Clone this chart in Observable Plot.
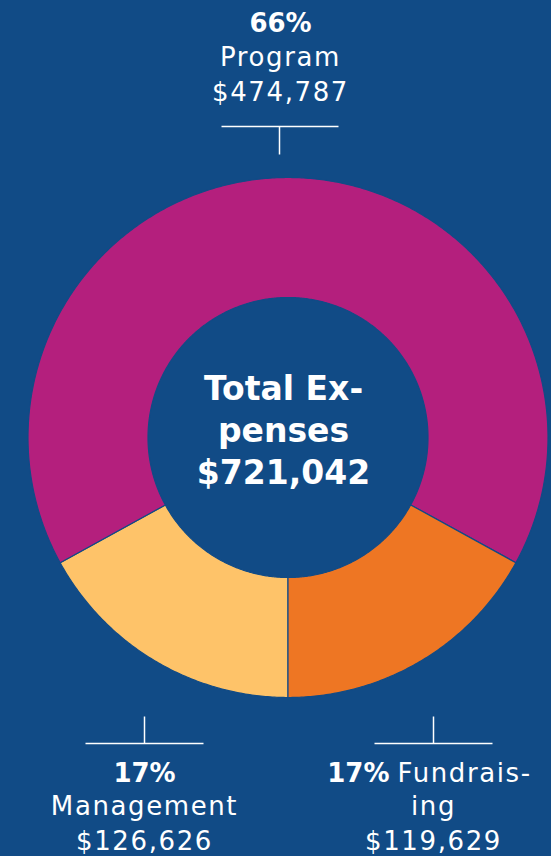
<!DOCTYPE html>
<html>
<head>
<meta charset="utf-8">
<script src="https://cdn.jsdelivr.net/npm/d3@7"></script>
<script src="https://cdn.jsdelivr.net/npm/@observablehq/plot@0.6"></script>
<style>
  html, body { margin: 0; padding: 0; background: #114b86; }
  svg g[font-weight="400"] { letter-spacing: 1.6px; }
</style>
</head>
<body>
<div id="chart"></div>
<script>
// ---- data (clockwise from the bottom of the ring) ----
const categories = ["Management", "Program", "Fundraising"];
const amounts = [126626, 474787, 119629];
const percents = [17, 66, 17];
const totalExpenses = 721042;
const centerTitle = "Total Ex-\npenses";
const labelNames = {Program: "Program", Management: "Management", Fundraising: ["Fundrais-", "ing"]};

// ---- style / layout ----
const BG = "#114b86";
const colors = {Program: "#b41f7d", Management: "#fec369", Fundraising: "#ee7623"};
const W = 551, H = 856;
const cx = 287.5, cy = 437, R = 260, r = 140;
const startDeg = 180;
const FONT = "DejaVu Sans";
const fmt = d3.format("$,");

// build ring slice outlines from the percentages
const slices = [];
let a = startDeg;
categories.forEach((c, i) => {
  const span = percents[i] / 100 * 360;
  const a0 = a, a1 = a + span;
  const pts = [];
  const n = Math.ceil(span * 2);
  for (let k = 0; k <= n; k++) {
    const t = (a0 + (a1 - a0) * k / n) * Math.PI / 180;
    pts.push({x: cx + R * Math.sin(t), y: cy - R * Math.cos(t)});
  }
  for (let k = n; k >= 0; k--) {
    const t = (a0 + (a1 - a0) * k / n) * Math.PI / 180;
    pts.push({x: cx + r * Math.sin(t), y: cy - r * Math.cos(t)});
  }
  slices.push({name: c, pts});
  a = a1;
});

const idx = Object.fromEntries(categories.map((c, i) => [c, i]));
const pct = c => percents[idx[c]] + "%";
const amt = c => fmt(amounts[idx[c]]);

// label anchors (layout)
const leaders = [
  {x1: 221, x2: 338, y: 126, vx: 279, vy1: 126, vy2: 154},
  {x1: 85, x2: 203, y: 743, vx: 144, vy1: 716, vy2: 743},
  {x1: 374, x2: 492, y: 743, vx: 433, vy1: 716, vy2: 743}
];

const boldTexts = [
  {x: 280, y: 31, text: pct("Program"), anchor: "middle"},
  {x: 144, y: 781, text: pct("Management"), anchor: "middle"},
  {x: 389, y: 781, text: pct("Fundraising"), anchor: "end"}
];
const regTexts = [
  {x: 280, y: 100, text: labelNames.Program + "\n" + amt("Program"), anchor: "middle"},
  {x: 144, y: 849, text: labelNames.Management + "\n" + amt("Management"), anchor: "middle"},
  {x: 397, y: 781, text: labelNames.Fundraising[0], anchor: "start"},
  {x: 433, y: 849, text: labelNames.Fundraising[1] + "\n" + amt("Fundraising"), anchor: "middle"}
];

const chart = Plot.plot({
  width: W,
  height: H,
  margin: 0,
  x: {domain: [0, W], range: [0, W], axis: null},
  y: {domain: [0, H], range: [0, H], axis: null},
  style: {background: BG, color: "white", fontFamily: FONT},
  marks: [
    ...slices.map(s => Plot.line(s.pts, {
      x: "x", y: "y", curve: "linear-closed",
      fill: colors[s.name], stroke: BG, strokeWidth: 1.2, strokeLinejoin: "round"
    })),
    Plot.link(leaders, {x1: "x1", x2: "x2", y1: "y", y2: "y", stroke: "white", strokeWidth: 1.5}),
    Plot.link(leaders, {x1: "vx", x2: "vx", y1: "vy1", y2: "vy2", stroke: "white", strokeWidth: 1.5}),
    Plot.text([centerTitle + "\n" + fmt(totalExpenses)], {
      x: () => 283, y: () => 483, text: d => d, fill: "white",
      fontSize: 33, fontWeight: "bold", fontFamily: FONT,
      lineAnchor: "bottom", lineHeight: 1.27
    }),
    ...boldTexts.map(t => Plot.text([t], {
      x: "x", y: "y", text: "text", textAnchor: t.anchor, fill: "white",
      fontSize: 26, fontWeight: "bold", fontFamily: FONT, lineAnchor: "bottom"
    })),
    ...regTexts.map(t => Plot.text([t], {
      x: "x", y: "y", text: "text", textAnchor: t.anchor, fill: "white",
      fontSize: 26, fontWeight: 400, fontFamily: FONT, lineAnchor: "bottom", lineHeight: 1.31
    }))
  ]
});
document.getElementById("chart").appendChild(chart);
</script>
</body>
</html>
